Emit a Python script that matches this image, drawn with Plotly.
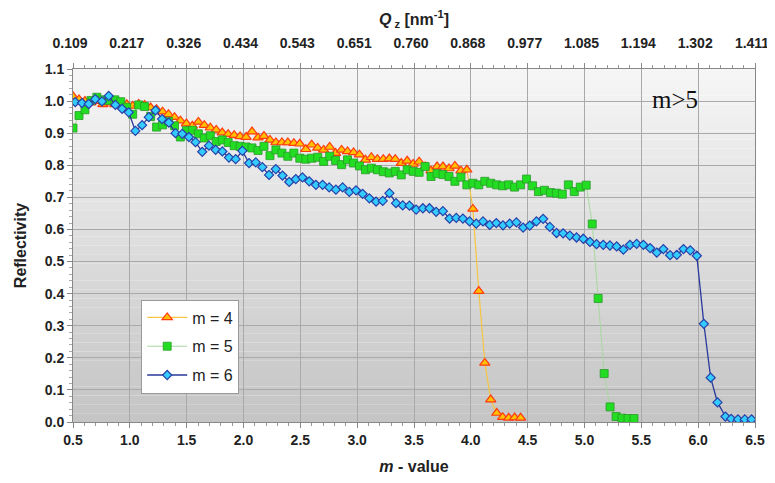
import plotly.graph_objects as go

# shared m-grid of the m=4 and m=5 measurements
M45_X = [0.500, 0.553, 0.605, 0.658, 0.710, 0.763, 0.815, 0.868, 0.920, 0.973,
         1.025, 1.078, 1.130, 1.183, 1.235, 1.288, 1.340, 1.393, 1.445, 1.498,
         1.550, 1.603, 1.655, 1.708, 1.760, 1.813, 1.865, 1.918, 1.970, 2.023,
         2.075, 2.128, 2.180, 2.233, 2.285, 2.338, 2.390, 2.443, 2.495, 2.548,
         2.600, 2.653, 2.705, 2.758, 2.810, 2.863, 2.915, 2.968, 3.020, 3.073,
         3.125, 3.178, 3.230, 3.283, 3.335, 3.388, 3.440, 3.493, 3.545, 3.598,
         3.650, 3.703, 3.755, 3.808, 3.860, 3.913, 3.965, 4.018, 4.070, 4.123,
         4.175, 4.228, 4.280, 4.333, 4.385, 4.438, 4.490, 4.543, 4.595, 4.648,
         4.700, 4.753, 4.805, 4.858, 4.910, 4.963, 5.015, 5.068, 5.120, 5.173,
         5.225, 5.278, 5.330, 5.383, 5.435]

M4_Y = [1.015, 1.005, 1.000, 0.995, 1.000, 0.990, 0.995, 0.990, 0.985, 0.990,
        0.985, 0.991, 0.988, 0.980, 0.975, 0.967, 0.959, 0.950, 0.939, 0.930,
        0.923, 0.935, 0.925, 0.917, 0.910, 0.902, 0.897, 0.894, 0.890, 0.888,
        0.905, 0.886, 0.891, 0.879, 0.871, 0.871, 0.871, 0.869, 0.867, 0.850,
        0.864, 0.854, 0.848, 0.857, 0.838, 0.848, 0.843, 0.840, 0.833, 0.817,
        0.825, 0.819, 0.819, 0.821, 0.819, 0.807, 0.814, 0.804, 0.811, 0.796,
        0.783, 0.796, 0.796, 0.790, 0.798, 0.783, 0.786,
        0.664, 0.408, 0.184, 0.070, 0.028, 0.015, 0.013, 0.014, 0.013]

M5_Y = [0.916, 0.955, 0.973, 1.002, 1.012, 1.004, 1.002, 1.004, 0.998, 0.981,
        0.959, 0.988, 0.983, 0.952, 0.919, 0.926, 0.937, 0.923, 0.888, 0.908,
        0.909, 0.898, 0.885, 0.892, 0.874, 0.879, 0.871, 0.861, 0.859, 0.857,
        0.854, 0.846, 0.859, 0.830, 0.848, 0.838, 0.828, 0.838, 0.822, 0.819,
        0.822, 0.825, 0.812, 0.828, 0.815, 0.802, 0.817, 0.807, 0.798, 0.786,
        0.791, 0.786, 0.780, 0.776, 0.781, 0.770, 0.786, 0.781, 0.778, 0.796,
        0.765, 0.774, 0.771, 0.765, 0.750, 0.763, 0.739, 0.744, 0.739, 0.750,
        0.744, 0.739, 0.736, 0.739, 0.732, 0.739, 0.757, 0.736, 0.718, 0.722,
        0.715, 0.713, 0.710, 0.739, 0.718, 0.732, 0.738,
        0.617, 0.385, 0.151, 0.047, 0.017, 0.012, 0.011, 0.011]

M6_X = [0.520, 0.579, 0.638, 0.696, 0.755, 0.814, 0.873, 0.932, 0.990, 1.049,
        1.108, 1.167, 1.226, 1.284, 1.343, 1.402, 1.461, 1.520, 1.578, 1.637,
        1.696, 1.755, 1.814, 1.872, 1.931, 1.990, 2.049, 2.108, 2.166, 2.225,
        2.284, 2.343, 2.402, 2.460, 2.519, 2.578, 2.637, 2.696, 2.754, 2.813,
        2.872, 2.931, 2.990, 3.048, 3.107, 3.166, 3.225, 3.284, 3.342, 3.401,
        3.460, 3.519, 3.578, 3.636, 3.695, 3.754, 3.813, 3.872, 3.930, 3.989,
        4.048, 4.107, 4.166, 4.224, 4.283, 4.342, 4.401, 4.460, 4.518, 4.577,
        4.636, 4.695, 4.754, 4.812, 4.871, 4.930, 4.989, 5.048, 5.106, 5.165,
        5.224, 5.283, 5.342, 5.400, 5.459, 5.518, 5.577, 5.636, 5.694, 5.753,
        5.812, 5.871, 5.930, 5.988,
        6.050, 6.110, 6.170, 6.240, 6.290, 6.350, 6.410, 6.470]

M6_Y = [0.997, 0.994, 0.991, 1.006, 0.999, 1.016, 0.988, 0.976, 0.965, 0.907,
        0.925, 0.950, 0.971, 0.944, 0.933, 0.900, 0.898, 0.888, 0.872, 0.842,
        0.861, 0.848, 0.843, 0.824, 0.819, 0.845, 0.807, 0.809, 0.794, 0.770,
        0.788, 0.768, 0.748, 0.757, 0.762, 0.750, 0.739, 0.739, 0.731, 0.724,
        0.731, 0.717, 0.722, 0.711, 0.697, 0.687, 0.689, 0.713, 0.682, 0.675,
        0.674, 0.662, 0.666, 0.666, 0.655, 0.657, 0.634, 0.636, 0.634, 0.625,
        0.618, 0.625, 0.614, 0.620, 0.613, 0.618, 0.622, 0.606, 0.612, 0.625,
        0.633, 0.608, 0.589, 0.588, 0.581, 0.575, 0.571, 0.561, 0.554, 0.552,
        0.550, 0.547, 0.537, 0.552, 0.555, 0.552, 0.542, 0.528, 0.539, 0.520,
        0.521, 0.539, 0.535, 0.518,
        0.306, 0.138, 0.061, 0.017, 0.010, 0.008, 0.008, 0.008]

M_TICKS = [0.5, 1.0, 1.5, 2.0, 2.5, 3.0, 3.5, 4.0, 4.5, 5.0, 5.5, 6.0, 6.5]
QZ_LABELS = ["0.109", "0.217", "0.326", "0.434", "0.543", "0.651", "0.760",
             "0.868", "0.977", "1.085", "1.194", "1.302", "1.411"]

FONT = "Liberation Sans, Arial, sans-serif"

fig = go.Figure()

fig.add_trace(go.Scatter(
    x=M45_X[:len(M4_Y)], y=M4_Y, name="m = 4", mode="lines+markers",
    line=dict(color="#f5c542", width=1.2),
    marker=dict(symbol="triangle-up", size=9, color="#ffc000",
                line=dict(color="#ff3b10", width=1.2)),
    legendgroup="a"))
fig.add_trace(go.Scatter(
    x=M45_X[:len(M5_Y)], y=M5_Y, name="m = 5", mode="lines+markers",
    line=dict(color="#a8d8a0", width=1),
    marker=dict(symbol="square", size=8, color="#22dd22",
                line=dict(color="#2a9a2a", width=0.8)),
    legendgroup="b"))
fig.add_trace(go.Scatter(
    x=M6_X, y=M6_Y, name="m = 6", mode="lines+markers",
    line=dict(color="#28389a", width=1.3),
    marker=dict(symbol="diamond", size=7, color="#33ccff",
                line=dict(color="#2840a8", width=1.2)),
    legendgroup="c"))

# gradient plot background
shapes = []
n = 40
top = (246, 246, 246)
bot = (196, 196, 196)
for i in range(n):
    t = (i + 0.5) / n
    c = tuple(int(round(bot[j] + (top[j] - bot[j]) * t)) for j in range(3))
    shapes.append(dict(type="rect", xref="paper", yref="paper",
                       x0=0, x1=1, y0=i / n, y1=(i + 1) / n,
                       fillcolor="rgb(%d,%d,%d)" % c, line=dict(width=0),
                       layer="below"))

tickfont = dict(family=FONT, size=14, color="#222222", weight="bold")

# page body has an 8px default margin, so the figure is sized to the visible area
fig.update_layout(
    width=767, height=475,
    margin=dict(l=65, r=20, t=61, b=61, autoexpand=False),
    paper_bgcolor="white",
    plot_bgcolor="rgba(0,0,0,0)",
    shapes=shapes,
    showlegend=True,
    legend=dict(x=0.1, y=0.347, xanchor="left", yanchor="top",
                bgcolor="white", bordercolor="#9a9a9a", borderwidth=1,
                font=dict(family=FONT, size=16, color="#222222"),
                tracegroupgap=5, itemwidth=40),
    xaxis=dict(range=[0.5, 6.5], tickvals=M_TICKS,
               ticktext=["%.1f" % v for v in M_TICKS], automargin=False,
               showgrid=True, gridcolor="#a9a9a9", gridwidth=1,
               zeroline=False, showline=True, linecolor="#888888",
               ticks="outside", ticklen=5, tickcolor="#888888",
               minor=dict(dtick=0.1, tick0=0.5, ticks="outside", ticklen=3,
                          tickcolor="#999999", showgrid=False),
               tickfont=tickfont,
               title=dict(text="<b><i>m</i> - value</b>", standoff=14,
                          font=dict(family=FONT, size=16, color="#222222"))),
    xaxis2=dict(range=[0.5, 6.5], overlaying="x", side="top", automargin=False,
                tickvals=M_TICKS, ticktext=QZ_LABELS,
                showgrid=False, zeroline=False, showline=True,
                linecolor="#888888", ticks="outside", ticklen=5,
                tickcolor="#888888", ticklabelstandoff=9, ticklabelshift=-3,
                minor=dict(dtick=0.1, tick0=0.5, ticks="outside", ticklen=3,
                           tickcolor="#999999"),
                tickfont=tickfont,
                title=dict(text="<b><i>Q</i><sub> z</sub> [nm<sup>-1</sup>]</b>",
                           standoff=13,
                           font=dict(family=FONT, size=16, color="#222222"))),
    yaxis=dict(range=[0, 1.1], dtick=0.1, tickformat=".1f", automargin=False,
               showgrid=True, gridcolor="#a9a9a9", gridwidth=1,
               zeroline=False, showline=True, linecolor="#888888",
               mirror=True,
               ticks="outside", ticklen=5, tickcolor="#888888",
               minor=dict(dtick=0.02, ticks="outside", ticklen=3,
                          tickcolor="#aaaaaa", showgrid=False),
               tickfont=tickfont,
               title=dict(text="<b>Reflectivity</b>", standoff=14,
                          font=dict(family=FONT, size=16, color="#222222"))),
    annotations=[dict(x=5.8, y=1.005, xref="x", yref="y", text="m&gt;5",
                      showarrow=False,
                      font=dict(family="Liberation Serif, Times New Roman, serif",
                                size=25, color="#111111"))],
)

# ensure top axis renders
fig.add_trace(go.Scatter(x=[0.5, 6.5], y=[None, None], xaxis="x2",
                         showlegend=False, hoverinfo="skip"))

fig.write_html("out.html")
